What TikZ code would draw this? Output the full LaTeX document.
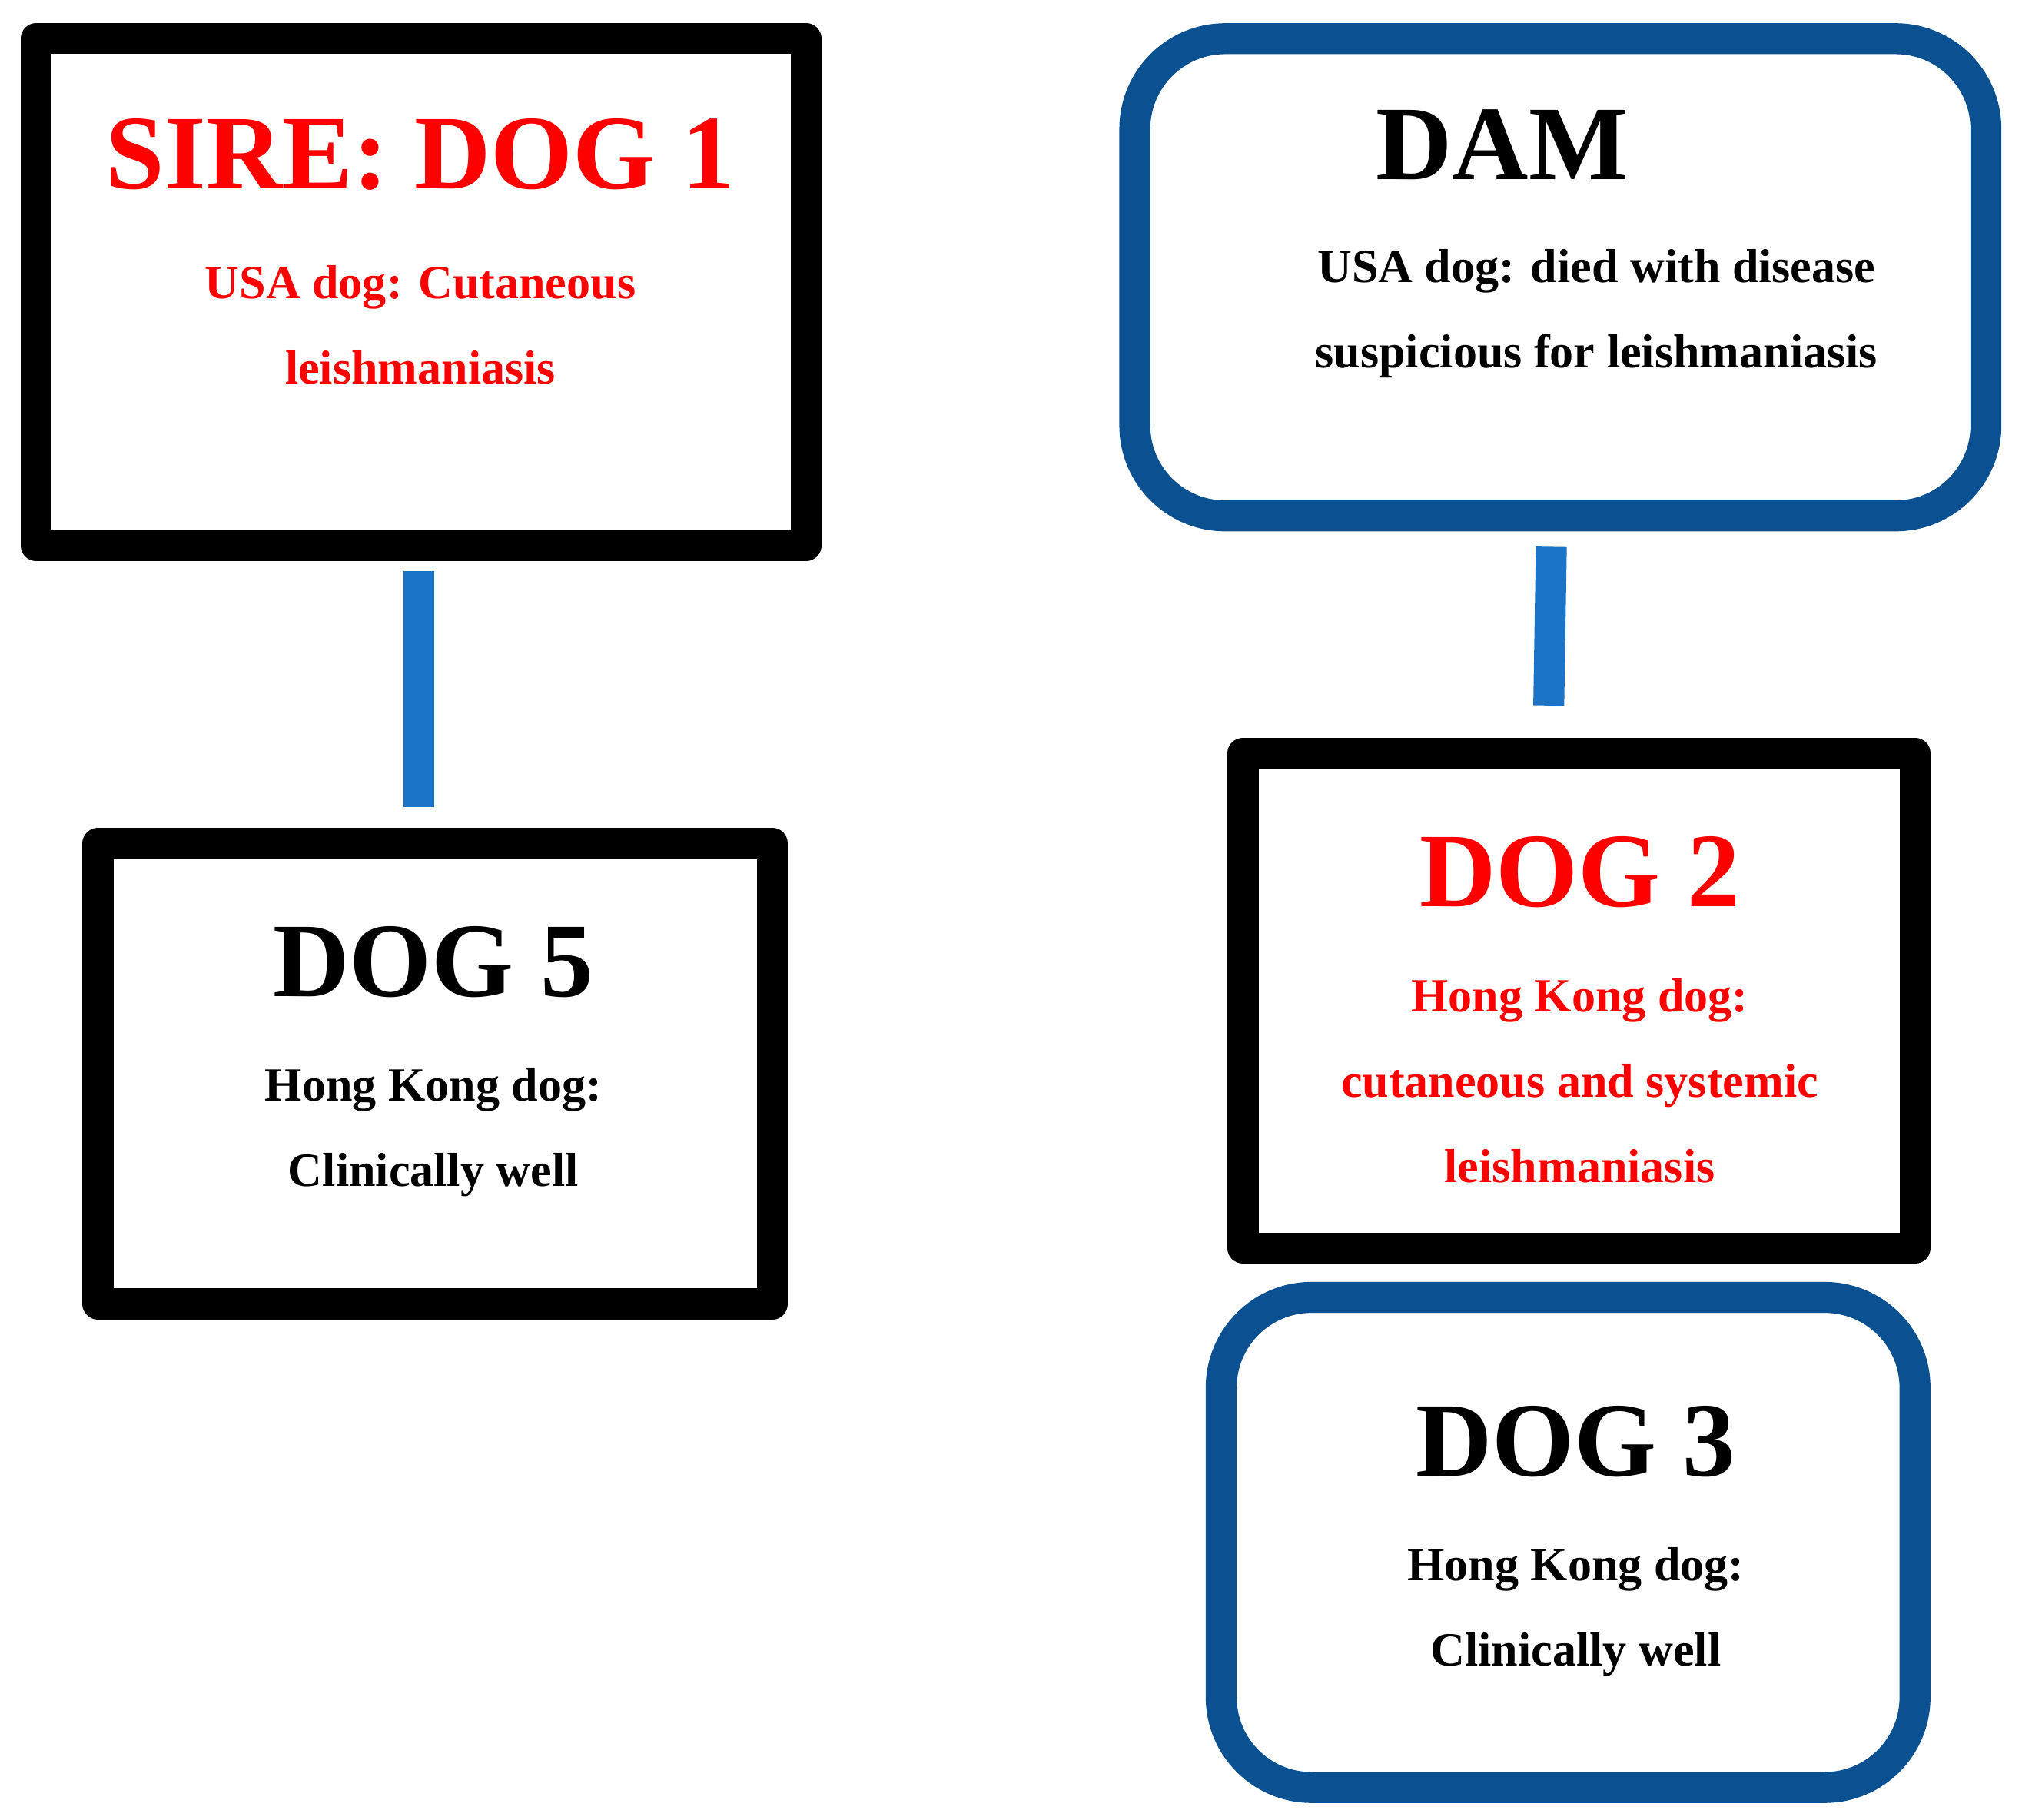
\documentclass[tikz,border=0pt]{standalone}
\usepackage{fontspec}
\setmainfont{Liberation Serif}
\begin{document}
\begin{tikzpicture}[x=1pt,y=-1pt,
  blk/.style={draw=black,line width=24pt,line join=round},
  blu/.style={draw=dblue,line width=24pt,rounded corners=70pt},
  conn/.style={draw=cblue,line width=24pt},
  big/.style={font=\fontsize{82}{90}\selectfont\bfseries},
  sm/.style={font=\fontsize{37}{66}\selectfont\bfseries,align=center}]
\definecolor{dblue}{HTML}{0B5091}
\definecolor{cblue}{HTML}{1C74C9}
\definecolor{tred}{HTML}{FF0000}
\useasboundingbox (0,0) rectangle (1568,1411);
\draw[blk] (28,30) rectangle (625,423);
\draw[blu] (880,30) rectangle (1540,400);
\draw[blk] (76,654) rectangle (599,1011);
\draw[blk] (964,584) rectangle (1485,968);
\draw[blu] (947,1006) rectangle (1485,1386);
\node[big,text=tred] (sire) at (326,120) {SIRE: DOG 1};
\node[sm,text=tred] (sirel) at (326,252) {USA dog: Cutaneous\\leishmaniasis};
\node[big] (dam) at (1165,112) {DAM};
\node[sm] (daml) at (1238,243) {USA dog: died with disease\\suspicious for leishmaniasis};
\node[big] (d5) at (336,746) {DOG 5};
\node[sm] (d5l) at (336,878) {Hong Kong dog:\\Clinically well};
\node[big,text=tred] (d2) at (1225,676) {DOG 2};
\node[sm,text=tred] (d2l) at (1225,838) {Hong Kong dog:\\cutaneous and systemic\\leishmaniasis};
\node[big] (d3) at (1222,1118) {DOG 3};
\node[sm] (d3l) at (1222,1250) {Hong Kong dog:\\Clinically well};
\coordinate (c1a) at (325,443); \coordinate (c1b) at (325,626);
\coordinate (c2a) at (1203,424); \coordinate (c2b) at (1201,547);
\draw[conn] (c1a) -- (c1b);
\draw[conn] (c2a) -- (c2b);
\end{tikzpicture}
\end{document}
